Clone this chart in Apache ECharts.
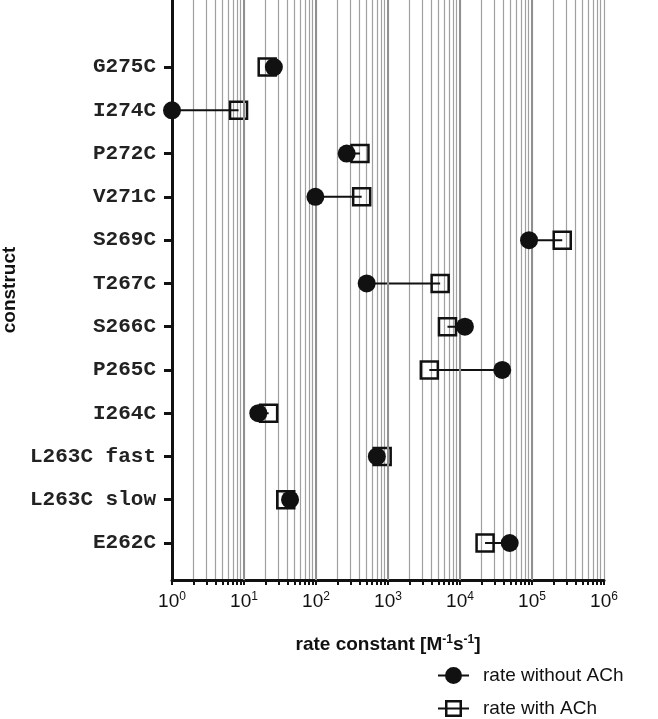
<!DOCTYPE html>
<html>
<head>
<meta charset="utf-8">
<script src="https://cdn.jsdelivr.net/npm/echarts@6/dist/echarts.min.js"></script>
<style>
  html, body { margin: 0; padding: 0; background: #fff; }
  #chart { width: 658px; height: 719px; }
</style>
</head>
<body>
<div id="chart"></div>
<script>
// constructs, bottom to top
var constructs = ['E262C', 'L263C slow', 'L263C fast', 'I264C', 'P265C', 'S266C',
    'T267C', 'S269C', 'V271C', 'P272C', 'I274C', 'G275C'];
// rate constants (M^-1 s^-1)
var rateWithout = [49000, 43.6, 700, 15.8, 38600, 11700, 506, 91000, 98, 267, 1, 26];
var rateWith = [22300, 38, 830, 22, 3750, 6700, 5300, 263000, 431, 408, 8.4, 21];
var xTicks = [1, 10, 100, 1000, 10000, 100000, 1000000];

var sup = { fontSize: 12, verticalAlign: 'bottom', padding: [0, 0, 9, 0], fontFamily: 'Liberation Sans', color: '#111' };

// all grid positions 1..9 x 10^k
var gridVals = [];
for (var k = 0; k < 6; k++) {
    for (var m = 1; m < 10; m++) gridVals.push(m * Math.pow(10, k));
}
gridVals.push(1000000);

var pos = constructs.map(function(c, i) { return i + 1; });

var pairLines = [];
constructs.forEach(function(c, i) {
    pairLines.push([rateWithout[i], i + 1]);
    pairLines.push([rateWith[i], i + 1]);
    pairLines.push('-');
});

var legendText = { fontFamily: 'Liberation Sans', fontSize: 19, color: '#111', padding: [0, 0, 0, 9] };

var myChart = echarts.init(document.getElementById('chart'));

var option = {
    backgroundColor: '#fff',
    animation: false,
    grid: { left: 172, right: 54, top: 0, bottom: 139, outerBoundsMode: 'none', containLabel: false },
    xAxis: {
        type: 'log',
        logBase: 10,
        min: 1,
        max: 1000000,
        axisLine: { lineStyle: { color: '#111', width: 3 } },
        axisTick: { customValues: gridVals, length: 5, lineStyle: { color: '#111', width: 2 } },
        axisLabel: {
            customValues: xTicks,
            margin: 11,
            fontFamily: 'Liberation Sans',
            fontSize: 19,
            color: '#111',
            formatter: function(v) {
                return '10{s|' + Math.round(Math.log10(v)) + '}';
            },
            rich: { s: sup }
        },
        splitLine: { show: true, lineStyle: { color: '#a0a0a0', width: 1.2 } },
        name: 'rate constant [M{s|-1}s{s|-1}]',
        nameLocation: 'middle',
        nameGap: 54,
        nameTextStyle: {
            fontFamily: 'Liberation Sans',
            fontWeight: 'bold',
            fontSize: 19,
            color: '#111',
            rich: { s: { fontSize: 12, fontWeight: 'bold', verticalAlign: 'bottom', padding: [0, 0, 9, 0], fontFamily: 'Liberation Sans', color: '#111' } }
        }
    },
    yAxis: {
        type: 'value',
        min: 0.145,
        max: 13.55,
        axisLine: { show: true, lineStyle: { color: '#111', width: 3 } },
        axisTick: { show: true, customValues: pos, length: 8, lineStyle: { color: '#111', width: 3 } },
        axisLabel: {
            customValues: pos,
            margin: 16,
            fontFamily: 'Liberation Mono',
            fontWeight: 'bold',
            fontSize: 21,
            color: '#222',
            formatter: function(v) { return constructs[Math.round(v) - 1] || ''; }
        },
        splitLine: { show: false },
        name: 'construct',
        nameLocation: 'middle',
        nameGap: 152,
        nameRotate: 90,
        nameTextStyle: { fontFamily: 'Liberation Sans', fontWeight: 'bold', fontSize: 19, color: '#111' }
    },
    legend: [
        {
            left: 438,
            top: 666,
            padding: 0,
            itemWidth: 31,
            itemHeight: 17,
            textStyle: legendText,
            data: [{
                name: 'rate without ACh',
                icon: 'path://M0 7.5H31V9.5H0Z M15.5 0A8.5 8.5 0 1 1 15.5 17A8.5 8.5 0 1 1 15.5 0Z',
                itemStyle: { color: '#111', borderWidth: 0 }
            }]
        },
        {
            left: 438,
            top: 699,
            padding: 0,
            itemWidth: 31,
            itemHeight: 17,
            textStyle: legendText,
            data: [{
                name: 'rate with ACh',
                icon: 'path://M0 7.5H31V9.5H0Z M7 0H24V17H7Z M9.5 2.5V14.5H21.5V2.5Z',
                itemStyle: { color: '#111', borderWidth: 0 }
            }]
        }
    ],
    series: [
        {
            name: 'decades',
            type: 'line',
            data: [],
            silent: true,
            markLine: {
                silent: true,
                symbol: 'none',
                label: { show: false },
                lineStyle: { color: '#909090', width: 2, type: 'solid' },
                data: xTicks.slice(1, 6).map(function(v) { return { xAxis: v }; })
            },
            z: 1
        },
        {
            name: 'connector',
            type: 'line',
            data: pairLines,
            symbol: 'none',
            connectNulls: false,
            lineStyle: { color: '#111', width: 2 },
            silent: true,
            z: 4
        },
        {
            name: 'rate with ACh',
            type: 'scatter',
            data: rateWith.map(function(v, i) { return [v, i + 1]; }),
            symbol: 'rect',
            symbolSize: 17,
            itemStyle: { color: 'rgba(255,255,255,0)', borderColor: '#111', borderWidth: 2.5, opacity: 1 },
            z: 3
        },
        {
            name: 'rate without ACh',
            type: 'scatter',
            data: rateWithout.map(function(v, i) { return [v, i + 1]; }),
            symbol: 'circle',
            symbolSize: 18,
            itemStyle: { color: '#111', opacity: 1 },
            z: 5
        }
    ]
};

myChart.setOption(option);
</script>
</body>
</html>
